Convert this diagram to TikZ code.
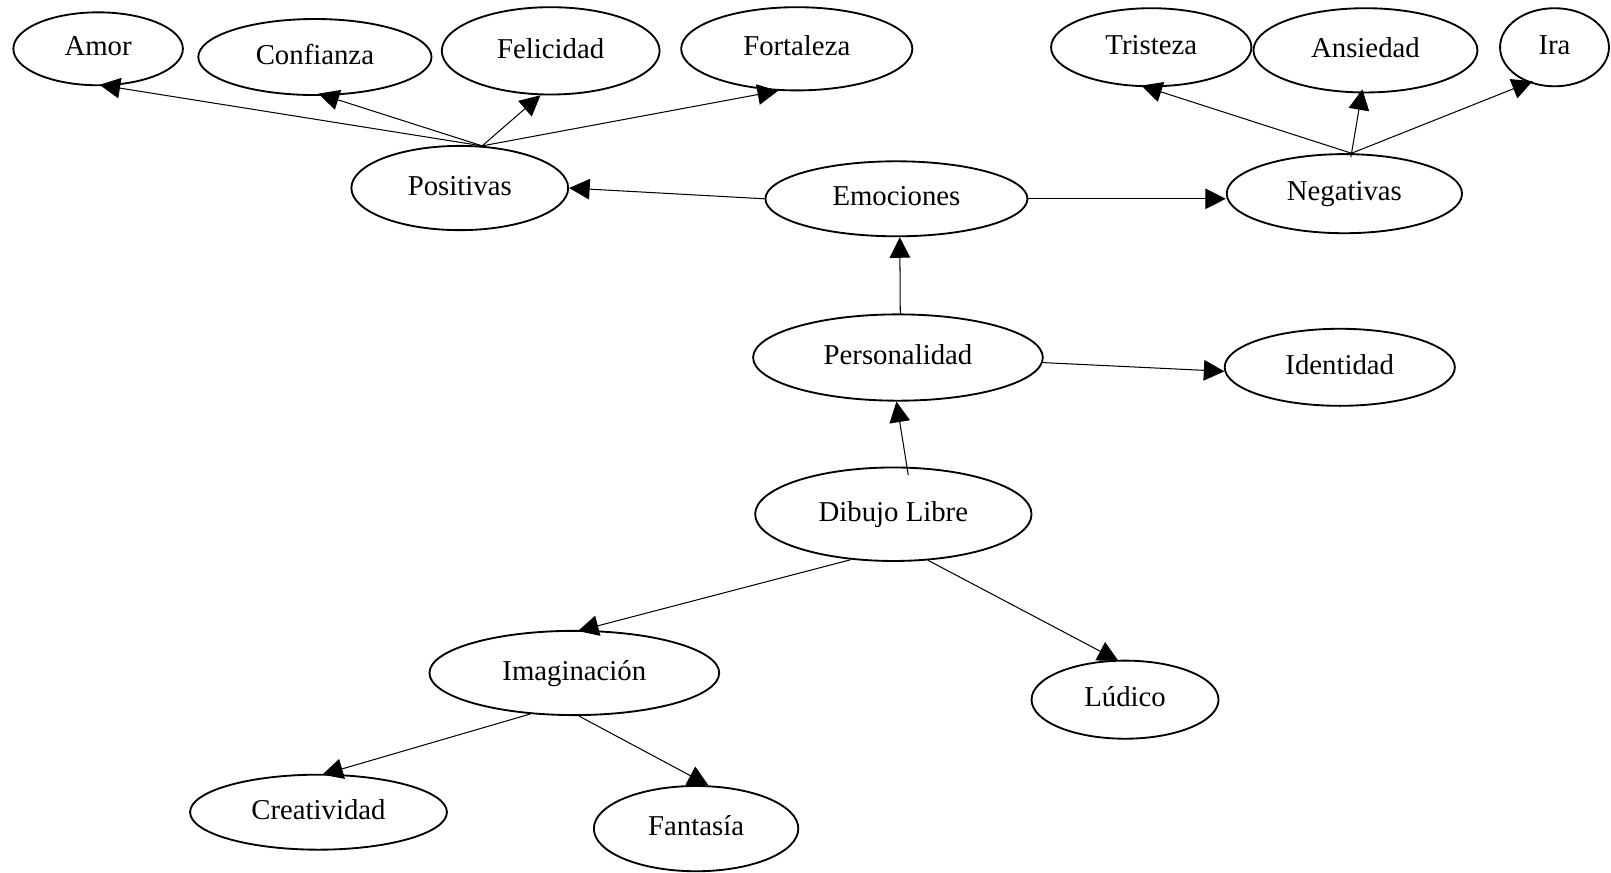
\documentclass[tikz,border=0pt]{standalone}
\usepackage{fontspec}
\setmainfont{Liberation Serif}
\usetikzlibrary{arrows.meta,shapes.geometric}
\begin{document}
\begin{tikzpicture}[x=0.5pt,y=-0.5pt,
  el/.style={draw, ellipse, line width=0.9pt, inner sep=0pt, text height=10pt, text depth=3pt, font=\fontsize{14}{16}\selectfont},
  sz/.style 2 args={minimum width=#1*0.5pt, minimum height=#2*0.5pt},
  arr/.style={line width=0.5pt, -{Triangle[length=10pt,width=10pt]}}]
\useasboundingbox (0,0) rectangle (1568,849);
\node[el, sz={165}{71}] (amor) at (95.5,47.5) {Amor};
\node[el, sz={227}{74}] (conf) at (306.5,55.5) {Confianza};
\node[el, sz={212}{85}] (fel) at (536,49.5) {Felicidad};
\node[el, sz={225}{81}] (fort) at (775.5,47.5) {Fortaleza};
\node[el, sz={195}{76}] (tris) at (1120.5,46) {Tristeza};
\node[el, sz={218}{82}] (ans) at (1329,49) {Ansiedad};
\node[el, sz={106}{76}] (ira) at (1513,46) {Ira};
\node[el, sz={211}{82}] (pos) at (447.5,183) {Positivas};
\node[el, sz={255}{73}] (emo) at (872.5,193.5) {Emociones};
\node[el, sz={229}{77}] (neg) at (1308.5,188.5) {Negativas};
\node[el, sz={282}{84}] (pers) at (874,348) {Personalidad};
\node[el, sz={224}{75}] (ident) at (1304,357.5) {Identidad};
\node[el, sz={269}{91}] (dib) at (869.5,500.5) {Dibujo Libre};
\node[el, sz={282}{82}] (imag) at (559,655) {Imaginación};
\node[el, sz={182}{76}] (lud) at (1095,681) {Lúdico};
\node[el, sz={250}{73}] (crea) at (310,790.5) {Creatividad};
\node[el, sz={199}{83}] (fan) at (677.5,806.5) {Fantasía};

\draw[arr, shorten >=-3.5pt] (pos.62) -- (amor.-77);
\draw[arr, shorten >=-3.5pt] (pos.62) -- (conf.-75);
\draw[arr] (pos.62) -- (fel.-103);
\draw[arr] (pos.62) -- (fort.-114);
\draw[arr] (emo.west) -- (pos.east);
\draw[arr] (emo.east) -- (emo.east -| neg.west);
\draw[arr, shorten <=-2pt, shorten >=-2.5pt] (neg.80) -- (tris.-97);
\draw[arr, shorten <=-2pt, shorten >=-2pt] (neg.80) -- (ans.-95);
\draw[arr, shorten <=-2pt, shorten >=-2pt] (neg.80) -- (ira.-126);
\draw[arr] (pers.87) -- (emo.-85);
\draw[arr] (pers.-2) -- (ident.182);
\draw[arr, shorten <=-4pt] (dib.74) -- (pers.-92);
\draw[arr, shorten >=-2pt] (dib.-133.5) -- (imag.80);
\draw[arr, shorten >=-1pt] (dib.-53.6) -- (lud.102.7);
\draw[arr, shorten >=-1.5pt] (imag.-137.7) -- (crea.80);
\draw[arr] (imag.-84.6) -- (fan.74);
\end{tikzpicture}
\end{document}
